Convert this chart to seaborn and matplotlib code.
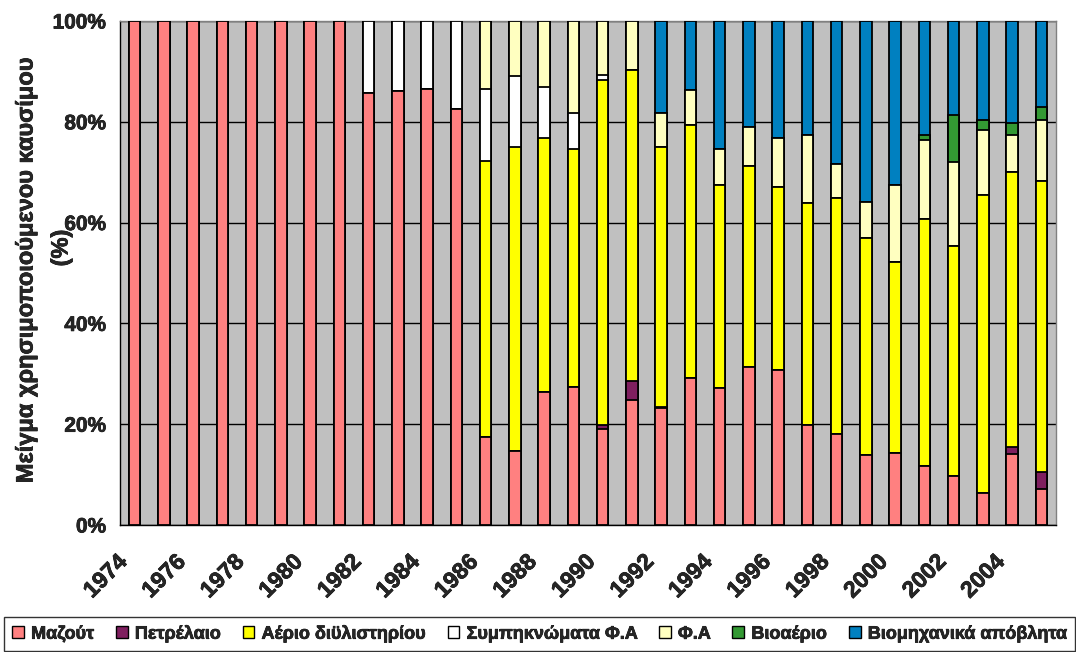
import matplotlib
matplotlib.use("Agg")
import matplotlib.pyplot as plt
import matplotlib.patheffects as pe
from matplotlib.patches import Patch
from matplotlib.ticker import FixedLocator, FuncFormatter
import numpy as np
import pandas as pd
import seaborn as sns

# Fuel mix shares (%) per year, 1974-2005
years = list(range(1974, 2006))

mazout = [100, 100, 100, 100, 100, 100, 100, 100,
          85.8, 86.1, 86.6, 82.6,
          17.4, 14.6, 26.4, 27.4, 19.1, 24.8, 23.2, 29.2, 27.2, 31.4,
          30.7, 19.8, 18.1, 13.8, 14.2, 11.7, 9.7, 6.4, 14.1, 7.1]
petrelaio = [0] * 16 + [0.8, 3.7, 0.3] + [0] * 11 + [1.4, 3.4]
aerio_dyl = [0] * 12 + [54.9, 60.4, 50.3, 47.3, 68.4, 61.8, 51.5, 50.2, 40.2, 39.9,
                        36.4, 44.0, 46.7, 43.2, 37.9, 49.0, 45.7, 59.0, 54.5, 57.8]
sympyk_fa = [0] * 8 + [14.2, 13.9, 13.4, 17.4, 14.3, 14.0, 10.3, 7.0, 1.0] + [0] * 15
fa = [0] * 12 + [13.4, 11.0, 13.0, 18.3, 10.7, 9.7, 6.7, 7.0, 7.3, 7.6,
                 9.6, 13.6, 6.8, 7.0, 15.3, 15.7, 16.6, 12.9, 7.4, 12.0]
bioaerio = [0] * 27 + [1.0, 9.4, 2.1, 2.3, 2.6]
viomix = [0] * 18 + [18.3, 13.6, 25.3, 21.1, 23.3, 22.6, 28.4, 36.0, 32.6,
                     22.6, 18.6, 19.6, 20.3, 17.1]

series_names = ["Μαζούτ", "Πετρέλαιο", "Αέριο διϋλιστηρίου", "Συμπηκνώματα Φ.Α",
                "Φ.Α", "Βιοαέριο", "Βιομηχανικά απόβλητα"]
series_values = [mazout, petrelaio, aerio_dyl, sympyk_fa, fa, bioaerio, viomix]
series_colors = ["#FF8080", "#7F1F5F", "#FFFF00", "#FFFFFF", "#FFFFC0", "#339933", "#0080C0"]

sns.set_style("white")
plt.rcParams["font.family"] = ["Liberation Sans", "DejaVu Sans"]

# slight outline to give the text a heavier stroke
heavy = [pe.withStroke(linewidth=0.5, foreground="black")]

W, H = 1076, 652
fig = plt.figure(figsize=(W / 100, H / 100), dpi=100)
ax = fig.add_axes([120 / W, 127 / H, 936 / W, 504 / H])
ax.set_facecolor("#C0C0C0")

year_labels = [str(y) for y in years]
cum = np.cumsum(np.array(series_values, dtype=float), axis=0)

# Stacked bars drawn as cumulative totals, top layer first
for i in range(len(series_names) - 1, -1, -1):
    df = pd.DataFrame({"year": year_labels, "share": cum[i]})
    sns.barplot(data=df, x="year", y="share", order=year_labels, color=series_colors[i],
                saturation=1, width=0.4, edgecolor="black", linewidth=1.3,
                errorbar=None, ax=ax, zorder=3)

ax.set_ylim(0, 100)
ax.set_xlim(-0.5, len(years) - 0.5)
ax.yaxis.set_major_locator(FixedLocator([0, 20, 40, 60, 80, 100]))
ax.yaxis.set_major_formatter(FuncFormatter(lambda v, p: f"{int(v)}%"))
ax.grid(axis="y", color="black", linewidth=1.0, zorder=1)
ax.set_axisbelow(True)

# Year labels every second year, slanted and set slightly left of the bar
label_pos = np.arange(0, len(years), 2) - 0.38
ax.xaxis.set_major_locator(FixedLocator(label_pos))
ax.set_xticklabels(year_labels[::2], rotation=45, ha="right", va="center",
                   rotation_mode="anchor", fontsize=16.5, fontweight="bold")
ax.xaxis.set_minor_locator(FixedLocator(np.arange(-0.5, len(years), 1)))
ax.tick_params(axis="x", which="major", length=0, pad=24)
ax.tick_params(axis="x", which="minor", length=6, width=1, color="black", direction="out")
ax.tick_params(axis="y", which="major", length=6, width=1, color="black", direction="out",
               labelsize=15, pad=4)
for lbl in ax.get_xticklabels() + ax.get_yticklabels():
    lbl.set_fontweight("bold")
    lbl.set_path_effects(heavy)

ax.set_xlabel("")
ax.set_ylabel("")
fig.text(26 / W, 1 - 270 / H, "Μείγμα χρησιμοποιούμενου καυσίμου", rotation=90,
         ha="center", va="center", fontsize=17, fontweight="bold", path_effects=heavy)
fig.text(61 / W, 1 - 248 / H, "(%)", rotation=90,
         ha="center", va="center", fontsize=17, fontweight="bold", path_effects=heavy)

for side in ["left", "bottom"]:
    ax.spines[side].set_color("black")
    ax.spines[side].set_linewidth(1.0)
for side in ["top", "right"]:
    ax.spines[side].set_color("#808080")
    ax.spines[side].set_linewidth(1.0)

handles = [Patch(facecolor=c, edgecolor="black", linewidth=1.0) for c in series_colors]
leg = fig.legend(handles, series_names, loc="lower left",
                 bbox_to_anchor=(4 / W, 1 / H, 1071 / W, 35 / H),
                 mode="expand", ncol=7, frameon=True, fancybox=False,
                 edgecolor="black", borderaxespad=0,
                 prop={"weight": "bold", "size": 13},
                 handlelength=0.65, handleheight=0.65, handletextpad=0.4,
                 columnspacing=0.5, borderpad=0.45)
leg.get_frame().set_linewidth(1.0)
for t in leg.get_texts():
    t.set_path_effects(heavy)

fig.savefig("out.png", dpi=100)
